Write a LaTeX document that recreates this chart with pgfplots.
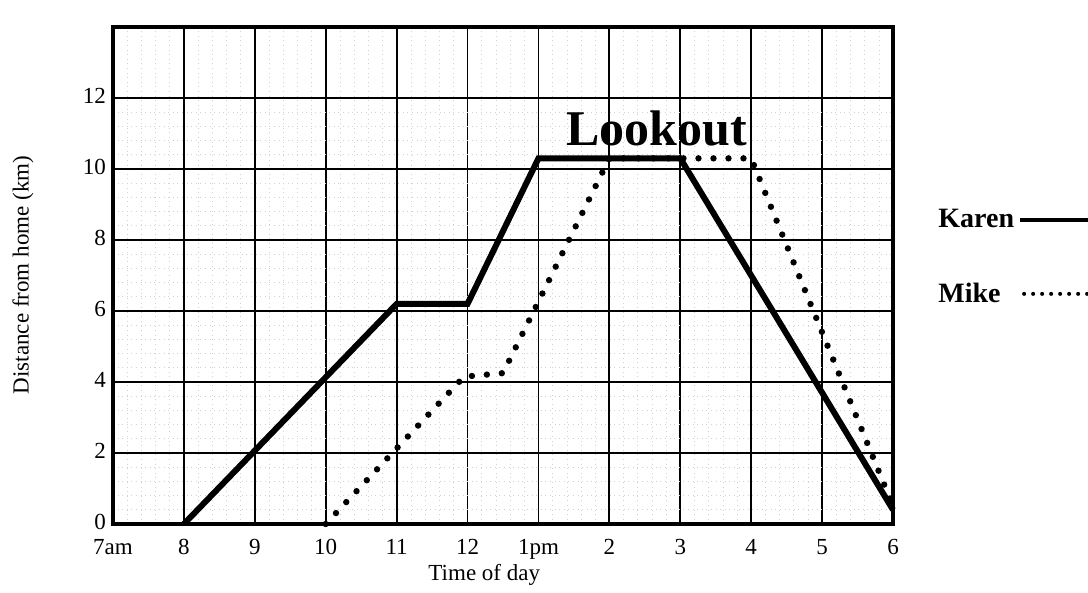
\documentclass[border=0pt]{standalone}
\usepackage{pgfplots}
\pgfplotsset{compat=1.18}
\usepackage{fontspec}
\setmainfont{Liberation Serif}
\begin{document}
\begin{tikzpicture}
\begin{axis}[
  at={(0,0)}, anchor=south west,
  scale only axis, width=390pt, height=248.5pt,
  xmin=7, xmax=18, ymin=0, ymax=14,
  xtick={7,...,18},
  xticklabels={7am,8,9,10,11,12,1pm,2,3,4,5,6},
  ytick={0,2,...,12},
  minor x tick num=4, minor y tick num=4,
  grid=both,
  major grid style={black, line width=0.9pt},
  minor grid style={black!18, line width=0.3pt, dotted},
  major tick length=0pt, minor tick length=0pt,
  axis line style={line width=1.6pt},
  tick label style={font=\fontsize{11.5}{13}\selectfont},
  xticklabel style={yshift=-4pt},
  yticklabel style={yshift=1pt},
  /pgf/number format/assume math mode=true,
  xlabel={Time of day},
  ylabel={Distance from home (km)},
  label style={font=\fontsize{11.5}{13}\selectfont},
  xlabel style={at={(axis description cs:0.476,-0.1127)}, anchor=base},
  ylabel style={at={(axis description cs:-0.1154,0.501)}, anchor=center},
  clip=false,
  legend plot pos=right,
  legend cell align=left,
  legend style={at={(axis description cs:1.0526,0.642)}, anchor=north west,
    draw=none, fill=none, inner sep=0pt,
    font=\fontsize{14}{16}\selectfont\bfseries,
    row sep=22pt,
    /tikz/every odd column/.style={column sep=0pt}},
]
\addplot[black, line width=3pt, line join=miter,
  legend image code/.code={\draw[black, line width=2pt] (0pt,0pt) -- (35pt,0pt);}]
  coordinates {(8,0) (11,6.2) (12,6.2) (13,10.3) (15,10.3) (18,0.4)};
\addlegendentry{Karen}
\addplot[black, line width=3.2pt, line cap=round, dash pattern=on 0pt off 7.5pt,
  legend image code/.code={\draw[black, line width=2pt, line cap=round, dash pattern=on 0pt off 4.5pt] (2pt,0pt) -- (40pt,0pt);}]
  coordinates {(10,0) (11.95,4.15) (12.5,4.25) (14,10.3) (16,10.3) (18,0.5)};
\addlegendentry{Mike}
\node[anchor=base, font=\fontsize{25}{28}\selectfont\bfseries, inner sep=0pt] at (axis cs:14.67,10.65) {Lookout};
\end{axis}
\pgfresetboundingbox
\path (-56.5pt,-34.5pt) rectangle (487.5pt,262pt);
\end{tikzpicture}
\end{document}
